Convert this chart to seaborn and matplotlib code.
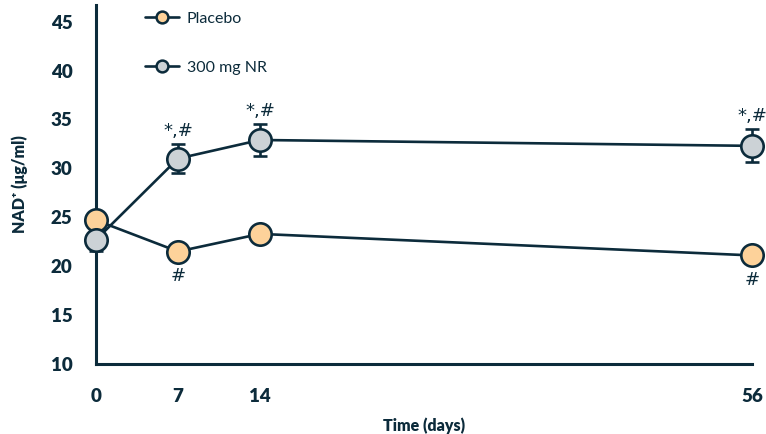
import pandas as pd
import numpy as np
import matplotlib.pyplot as plt
import seaborn as sns
from matplotlib.lines import Line2D

# Datos
days = [0, 7, 14, 56]
placebo = [24.7, 21.5, 23.3, 21.1]
placebo_err = [0.8, 0.6, 0.6, 0.6]
nr = [22.7, 31.0, 32.9, 32.3]
nr_err = [1.1, 1.5, 1.6, 1.7]
groups = ['Placebo', '300 mg NR']
nr_marks = ['*,#', '*,#', '*,#']
nr_mark_days = [7, 14, 56]
placebo_marks = ['#', '#']
placebo_mark_days = [7, 56]
yticks = [10, 15, 20, 25, 30, 35, 40, 45]

dark = '#0c2b3b'
colors = {'Placebo': '#fdd29a', '300 mg NR': '#ccd2d6'}

df = pd.DataFrame({
    'day': days * 2,
    'nad': placebo + nr,
    'err': placebo_err + nr_err,
    'group': [groups[0]] * len(days) + [groups[1]] * len(days),
})

sns.set_style('white')
plt.rcParams['font.family'] = ['Lato', 'DejaVu Sans']

fig = plt.figure(figsize=(7.66, 4.34), dpi=100)
ax = fig.add_axes([96 / 766, 70 / 434, 656 / 766, 359 / 434])

# Lineas
sns.lineplot(data=df, x='day', y='nad', units='group', estimator=None,
             color=dark, linewidth=1.9, ax=ax, zorder=2, legend=False)

# Barras de error
for g in groups:
    sub = df[df['group'] == g]
    ax.errorbar(sub['day'], sub['nad'], yerr=sub['err'], fmt='none',
                ecolor=dark, elinewidth=1.9, capsize=5, capthick=1.9,
                zorder=3, clip_on=False)

# Marcadores
for g in groups:
    sub = df[df['group'] == g]
    sns.scatterplot(data=sub, x='day', y='nad', color=colors[g], s=260,
                    edgecolor=dark, linewidth=1.9, ax=ax, zorder=4,
                    legend=False, clip_on=False)

# Anotaciones de significancia
for d, t in zip(nr_mark_days, nr_marks):
    y = df[(df['group'] == groups[1]) & (df['day'] == d)]
    top = float(y['nad'].iloc[0] + y['err'].iloc[0])
    ax.annotate(t, (d, top), xytext=(0, 3), textcoords='offset points',
                ha='center', va='bottom', fontsize=13, color=dark,
                family=['DejaVu Sans'])
for d, t in zip(placebo_mark_days, placebo_marks):
    y = df[(df['group'] == groups[0]) & (df['day'] == d)]
    ax.annotate(t, (d, float(y['nad'].iloc[0])), xytext=(0, -11),
                textcoords='offset points', ha='center', va='top',
                fontsize=13, color=dark, family=['DejaVu Sans'])

ax.set_xlim(0, 56)
ax.set_ylim(10, 46.7)
ax.set_xticks(days)
ax.set_yticks(yticks)
ax.tick_params(axis='both', direction='out', length=6, width=1.9,
               color=dark, labelcolor=dark, labelsize=13.5, pad=11)
for lbl in ax.get_xticklabels() + ax.get_yticklabels():
    lbl.set_fontweight('heavy')

for s in ['top', 'right']:
    ax.spines[s].set_visible(False)
for s in ['left', 'bottom']:
    ax.spines[s].set_color(dark)
    ax.spines[s].set_linewidth(2.2)

ax.set_xlabel('Time (days)', fontsize=11.5, fontweight='heavy', color=dark, labelpad=9)
ax.set_ylabel('NAD⁺ (μg/ml)', fontsize=11.5, fontweight='heavy', color=dark, labelpad=16)

handles = [Line2D([], [], color=dark, linewidth=1.9, marker='o', markersize=8.5,
                  markerfacecolor=colors[g], markeredgecolor=dark,
                  markeredgewidth=1.8) for g in groups]
leg = ax.legend(handles, groups, loc='upper left', bbox_to_anchor=(0.065, 1.0),
                frameon=False, fontsize=11.5, labelspacing=2.2,
                handlelength=2.1, handletextpad=0.5, borderaxespad=0)
for t in leg.get_texts():
    t.set_color(dark)

fig.savefig('out.png', dpi=100)
